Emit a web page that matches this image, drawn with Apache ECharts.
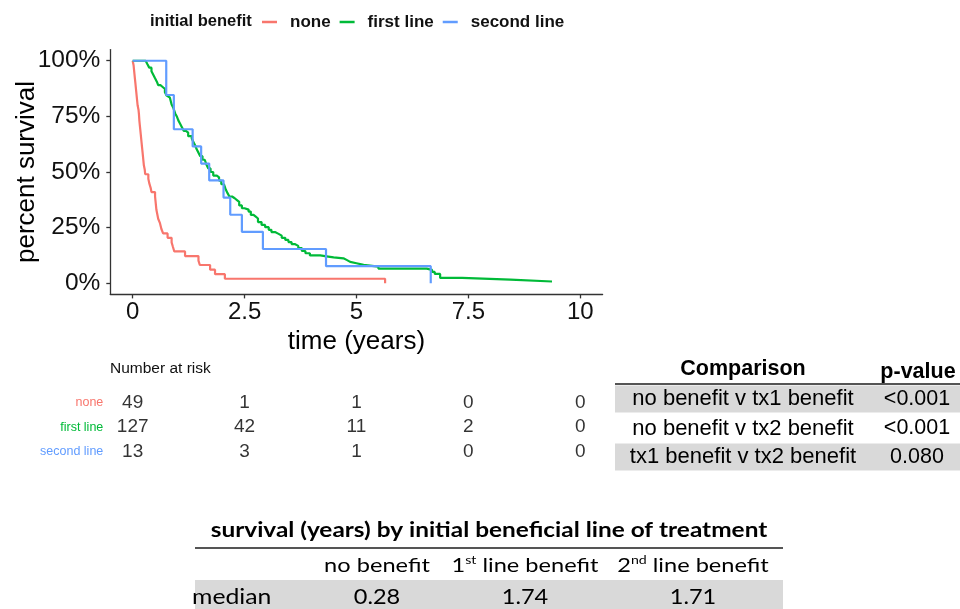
<!DOCTYPE html>
<html><head><meta charset="utf-8">
<script src="https://cdn.jsdelivr.net/npm/echarts@6/dist/echarts.min.js"></script>
<style>html,body{margin:0;padding:0;background:#fff}#c{width:960px;height:609px}</style>
</head><body><div id="c"></div>
<script>
// ---- data ----
const groupNames = ['none', 'first line', 'second line'];
const groupColors = ['#F8766D', '#00BA38', '#619CFF'];

const noneTime = [0,0.02,0.03,0.04,0.05,0.06,0.07,0.08,0.09,0.10,0.11,0.13,0.14,0.15,0.16,0.17,0.18,0.19,0.20,0.21,0.22,0.23,0.24,0.25,0.27,0.28,0.35,0.37,0.40,0.42,0.50,0.51,0.52,0.53,0.55,0.57,0.61,0.64,0.68,0.78,0.87,0.90,0.93,1.17,1.47,1.50,1.73,1.84,2.06,5.64];
const noneSurv = [100,98,96,94,92,90,88,86,84,82,80,78,76,73,71,69,67,65,63,61,59,57,55,53,51,49,47,45,43,41,39,37,35,33,31,29,27,24.5,22.4,20.4,18.4,16.3,14.3,12.2,10.2,8.2,6.1,4.1,2.04,0];

const firstTime = [0,0.29,0.33,0.37,0.42,0.46,0.50,0.54,0.57,0.62,0.67,0.72,0.76,0.80,0.83,0.87,0.91,0.95,0.99,1.02,1.06,1.10,1.14,1.19,1.24,1.32,1.36,1.40,1.43,1.47,1.51,1.56,1.61,1.65,1.69,1.74,1.80,1.88,1.93,1.98,2.04,2.08,2.12,2.16,2.22,2.28,2.33,2.38,2.44,2.50,2.59,2.64,2.70,2.75,2.80,2.88,2.96,3.04,3.10,3.18,3.26,3.33,3.41,3.48,3.55,3.62,3.70,3.78,3.86,3.96,4.19,4.37,4.49,4.71,4.79,4.86,5.00,5.16,5.49,6.57,6.69,6.75,6.87,7.36,8.44,9.37];
const firstSurv = [100,99.2,98.4,96.9,95.3,93.7,92.1,90.6,89.0,88.2,87.4,85.8,84.3,83.5,82.7,80.3,78.7,76.3,74.8,73.2,71.7,70.1,68.5,67.7,66.1,65.0,63.4,61.8,60.2,58.7,57.1,55.5,54.7,53.2,51.6,50.0,48.4,47.6,46.1,44.5,43.7,42.1,40.5,39.0,38.2,37.4,36.6,35.0,33.7,33.1,32.2,30.7,29.9,29.1,27.5,26.2,25.2,24.0,23.0,22.2,21.4,20.4,19.5,18.5,17.6,16.8,15.8,14.5,13.5,12.5,12.0,11.6,11.2,10.4,9.6,9.0,8.3,7.5,6.6,6.0,5.1,4.2,2.4,1.6,0.8,0.8];

const secondTime = [0,0.75,0.92,1.34,1.53,1.71,2.03,2.18,2.44,2.91,4.32,6.66];
const secondSurv = [100,84.6,69.2,61.5,53.8,46.2,38.5,30.8,23.1,15.4,7.7,0];

const xTicks = [0, 2.5, 5, 7.5, 10];
const yTicks = [0, 25, 50, 75, 100];

const riskTimes = [0, 2.5, 5, 7.5, 10];
const riskNone = [49, 1, 1, 0, 0];
const riskFirst = [127, 42, 11, 2, 0];
const riskSecond = [13, 3, 1, 0, 0];

const compLabels = ['no benefit v tx1 benefit', 'no benefit v tx2 benefit', 'tx1 benefit v tx2 benefit'];
const compP = ['<0.001', '<0.001', '0.080'];

const medianTitle = 'survival (years) by initial beneficial line of treatment';
const medianHeaders = ['no benefit', '1{sup|st} line benefit', '2{sup|nd} line benefit'];
const medianValues = ['0.28', '1.74', '1.71'];

// ---- chart ----
const F = "'Liberation Sans', Arial, sans-serif";
const F2 = "Lato, 'Open Sans', sans-serif";
const zip = (a, b) => a.map((v, i) => [v, b[i]]);
const survSeries = [[noneTime, noneSurv], [firstTime, firstSurv], [secondTime, secondSurv]].map((d, i) => ({
  name: groupNames[i], type: 'line', step: 'end', xAxisIndex: 0, yAxisIndex: 0,
  data: zip(d[0], d[1]), showSymbol: false, symbol: 'none',
  lineStyle: { color: groupColors[i], width: 2.2 }, itemStyle: { color: groupColors[i] },
  z: 2 + i, silent: true, animation: false
}));
const riskRows = [riskNone, riskFirst, riskSecond];
const riskSeries = riskRows.map((row, i) => ({
  type: 'scatter', xAxisIndex: 1, yAxisIndex: 1, symbolSize: 0, animation: false, silent: true,
  data: row.map((v, j) => [riskTimes[j], groupNames[i], v]),
  label: { show: true, position: 'inside', formatter: p => String(p.data[2]),
    fontFamily: F, fontSize: 19, color: '#000' }
}));

const G = [];
// legend title
G.push({ type: 'text', x: 150, y: 21, style: { text: 'initial benefit', fontFamily: F, fontSize: 16.5, fontWeight: 'bold', fill: '#111', align: 'left', verticalAlign: 'middle' } });
// number at risk title
G.push({ type: 'text', x: 110, y: 369, style: { text: 'Number at risk', fontFamily: F, fontSize: 15.5, fill: '#111', align: 'left', verticalAlign: 'middle' } });
// comparison table
const compRowY = [399, 428.5, 457];
G.push({ type: 'text', x: 743, y: 369, style: { text: 'Comparison', fontFamily: F, fontSize: 21.5, fontWeight: 'bold', fill: '#000', align: 'center', verticalAlign: 'middle' } });
G.push({ type: 'text', x: 918, y: 372, style: { text: 'p-value', fontFamily: F, fontSize: 21.5, fontWeight: 'bold', fill: '#000', align: 'center', verticalAlign: 'middle' } });
compLabels.forEach((t, i) => {
  if (i % 2 === 0) G.push({ type: 'rect', shape: { x: 615, y: compRowY[i] - 13.5, width: 345, height: 27 }, style: { fill: '#d9d9d9' }, z: -1 });
  G.push({ type: 'text', x: 743, y: compRowY[i], style: { text: t, fontFamily: F, fontSize: 22, fill: '#000', align: 'center', verticalAlign: 'middle' } });
  G.push({ type: 'text', x: 917, y: compRowY[i], style: { text: compP[i], fontFamily: F, fontSize: 21.5, fill: '#000', align: 'center', verticalAlign: 'middle' } });
});
G.push({ type: 'line', shape: { x1: 615, y1: 384, x2: 960, y2: 384 }, style: { stroke: '#555', lineWidth: 2 } });
// median table (reference table is horizontally stretched)
G.push({ type: 'text', x: 489, y: 531, scaleX: 1.22, style: { text: medianTitle, fontFamily: F2, fontSize: 20, fontWeight: 'bold', fill: '#000', align: 'center', verticalAlign: 'middle' } });
G.push({ type: 'line', shape: { x1: 195, y1: 548, x2: 783, y2: 548 }, style: { stroke: '#555', lineWidth: 2 } });
G.push({ type: 'rect', shape: { x: 195, y: 580, width: 588, height: 29 }, style: { fill: '#d9d9d9' }, z: -1 });
const medCols = [377, 525, 693];
medianHeaders.forEach((t, i) => {
  G.push({ type: 'text', x: medCols[i], y: 566, scaleX: 1.18, style: { text: t, fontFamily: F2, fontSize: 20, fill: '#000', align: 'center', verticalAlign: 'middle', lineHeight: 24,
    rich: { sup: { fontFamily: F2, fontSize: 12, verticalAlign: 'top', lineHeight: 24, fill: '#000' } } } });
  G.push({ type: 'text', x: medCols[i], y: 597, scaleX: 1.12, style: { text: medianValues[i], fontFamily: F2, fontSize: 21, fill: '#000', align: 'center', verticalAlign: 'middle' } });
});
G.push({ type: 'text', x: 192, y: 597, scaleX: 1.18, style: { text: 'median', fontFamily: F2, fontSize: 21, fill: '#000', align: 'left', verticalAlign: 'middle' } });

const axisLineStyle = { color: '#333', width: 1.3 };
const option = {
  backgroundColor: '#fff',
  animation: false,
  legend: {
    data: groupNames, left: 262, top: 13.5, padding: 0, icon: 'rect', itemWidth: 15, itemHeight: 2.5, itemGap: 9,
    textStyle: { fontFamily: F, fontSize: 17, fontWeight: 'bold', color: '#111', padding: [0, 0, 0, 8] },
    selectedMode: false
  },
  grid: [
    { left: 110.3, top: 49.6, width: 492.3, height: 244.8, containLabel: false, outerBoundsMode: 'none' },
    { left: 110.3, top: 390.5, width: 492.3, height: 73.5, containLabel: false, outerBoundsMode: 'none' }
  ],
  xAxis: [
    { type: 'value', gridIndex: 0, min: -0.5, max: 10.5,
      axisLine: { show: true, lineStyle: axisLineStyle, onZero: false },
      axisTick: { show: true, length: 4, lineStyle: axisLineStyle, customValues: xTicks },
      axisLabel: { customValues: xTicks, fontFamily: F, fontSize: 24, color: '#111', margin: 6, formatter: v => String(v) },
      splitLine: { show: false },
      name: 'time (years)', nameLocation: 'middle', nameGap: 34, nameMoveOverlap: false,
      nameTextStyle: { fontFamily: F, fontSize: 26, color: '#000' } },
    { type: 'value', gridIndex: 1, min: -0.5, max: 10.5, show: false }
  ],
  yAxis: [
    { type: 'value', gridIndex: 0, min: -5, max: 105,
      axisLine: { show: true, lineStyle: axisLineStyle, onZero: false },
      axisTick: { show: true, length: 4, lineStyle: axisLineStyle, customValues: yTicks },
      axisLabel: { customValues: yTicks, fontFamily: F, fontSize: 24.5, color: '#111', margin: 10, formatter: v => v + '%' },
      splitLine: { show: false },
      name: 'percent survival', nameLocation: 'middle', nameGap: 70, nameMoveOverlap: false,
      nameTextStyle: { fontFamily: F, fontSize: 26, color: '#000' } },
    { type: 'category', gridIndex: 1, data: groupNames, inverse: true,
      axisLine: { show: false }, axisTick: { show: false }, splitLine: { show: false },
      axisLabel: { margin: 7, formatter: (v, i) => '{g' + i + '|' + v + '}',
        rich: { g0: { color: groupColors[0], fontFamily: F, fontSize: 12.5 },
                g1: { color: groupColors[1], fontFamily: F, fontSize: 12.5 },
                g2: { color: groupColors[2], fontFamily: F, fontSize: 12.5 } } } }
  ],
  series: survSeries.concat(riskSeries),
  graphic: G
};
const chart = echarts.init(document.getElementById('c'));
chart.setOption(option);
</script></body></html>
